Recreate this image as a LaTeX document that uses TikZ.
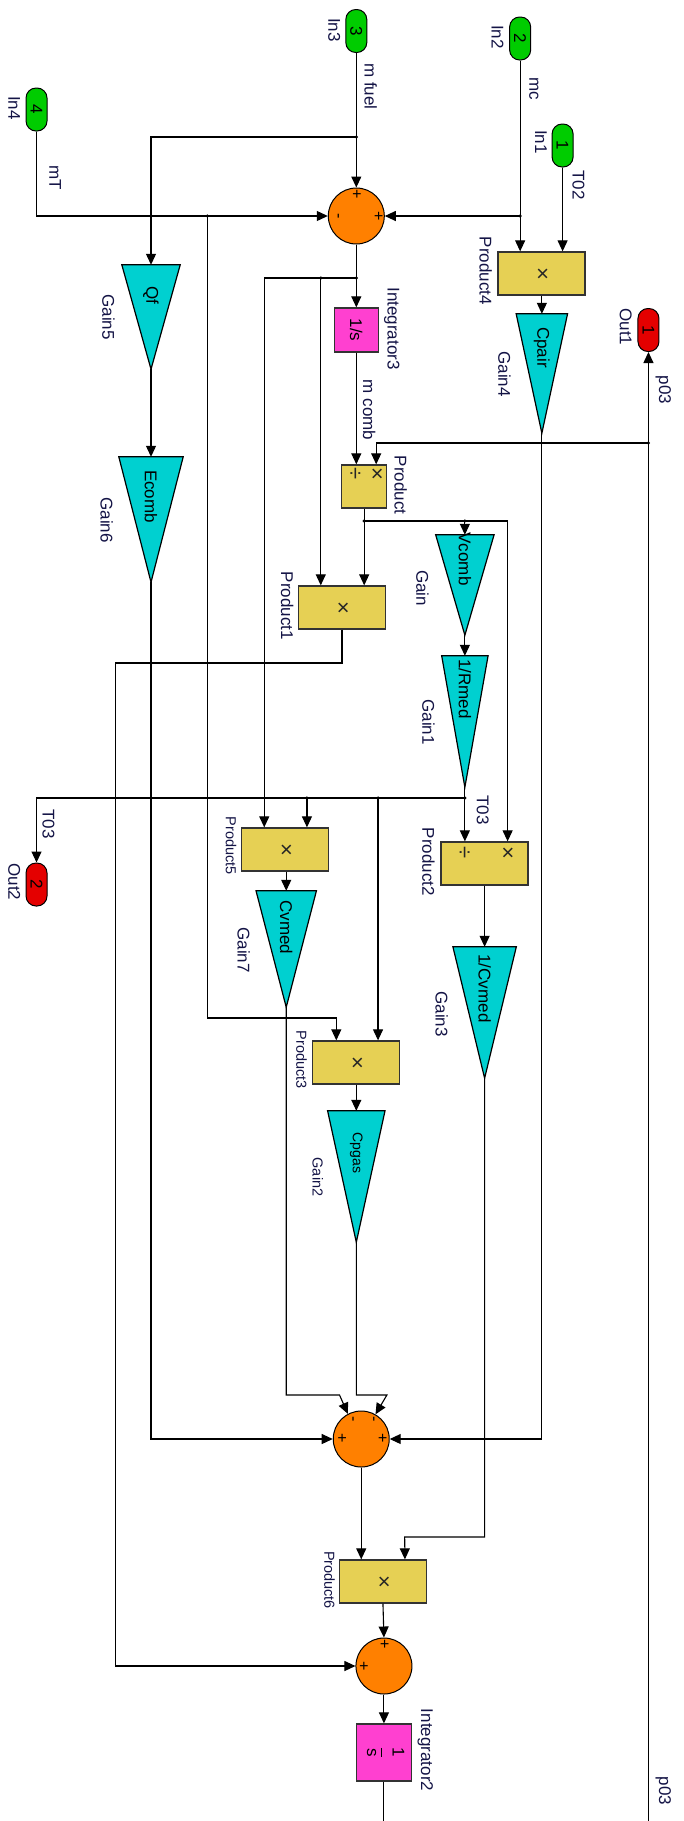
\documentclass[tikz,border=0pt]{standalone}
\usepackage{fontspec}
\setmainfont{Liberation Sans}
\usetikzlibrary{arrows.meta}
\definecolor{ingreen}{RGB}{0,204,0}
\definecolor{outred}{RGB}{228,0,0}
\definecolor{gaincyan}{RGB}{0,208,208}
\definecolor{prodyel}{RGB}{230,208,84}
\definecolor{sumorange}{RGB}{255,128,0}
\definecolor{intmag}{RGB}{255,64,208}
\definecolor{namecol}{RGB}{20,20,70}
\tikzset{
  sig/.style={line width=1.1pt, -{Triangle[length=11pt,width=10pt]}},
  wire/.style={line width=1.1pt},
  port/.style={draw=black, line width=1pt, rounded corners=10pt, minimum width=21pt, minimum height=43pt, inner sep=0pt, font=\fontsize{17}{20}\selectfont},
  inport/.style={port, fill=ingreen},
  outport/.style={port, fill=outred},
  prodbox/.style={draw=black!80, line width=1.3pt, fill=prodyel, minimum width=87pt, minimum height=43pt, inner sep=0pt},
  intbox/.style={draw=black!80, line width=1.3pt, fill=intmag, inner sep=0pt},
  sumnode/.style={circle, draw=black, line width=1pt, fill=sumorange, minimum size=56pt, inner sep=0pt},
  nm/.style={rotate=-90, text=namecol, font=\fontsize{17}{20}\selectfont, inner sep=0pt},
  nms/.style={rotate=-90, text=namecol, font=\fontsize{14.5}{17}\selectfont, inner sep=0pt},
  blk/.style={rotate=-90, font=\fontsize{17}{20}\selectfont, inner sep=0pt},
  blks/.style={rotate=-90, font=\fontsize{14}{17}\selectfont, inner sep=0pt},
  mul/.style={rotate=-90, font=\fontsize{22}{24}\selectfont, inner sep=0pt, text=black!85},
  sgn/.style={rotate=-90, font=\fontsize{16}{18}\selectfont, inner sep=0pt},
  jdot/.style={circle, fill=black, inner sep=0pt, minimum size=3.5pt},
  gainfill/.style={fill=gaincyan, draw=black, line width=1.2pt, line join=miter},
}
\newcommand\gainblk[5]{%
  \node[inner sep=0pt, minimum width=#4pt, minimum height=#5pt] (#1) at (#2,#3) {};
  \filldraw[gainfill] (#1.north west) -- (#1.north east) -- (#1.south) -- cycle;
}
\begin{document}
\begin{tikzpicture}[x=0.987pt,y=-1pt]
\useasboundingbox (0,0) rectangle (692,1821);
\fill[white] (0,0) rectangle (692,1821);

% ---------- inports / outports ----------
\node[inport] (in3) at (361,31) {};
\node[blk] at (in3) {3};
\node[inport] (in2) at (527,38.5) {};
\node[blk] at (in2) {2};
\node[inport] (in1) at (570,145.5) {};
\node[blk] at (in1) {1};
\node[inport] (in4) at (37,109.5) {};
\node[blk] at (in4) {4};
\node[outport] (out1) at (657,330) {};
\node[blk] at (out1) {1};
\node[outport] (out2) at (37,884.5) {};
\node[blk] at (out2) {2};

\node[nm] (lin3) at (338.6,30) {In3};
\node[nm] (lin2) at (504,37) {In2};
\node[nm] (lin1) at (548,142) {In1};
\node[nm] (lin4) at (14.5,108) {In4};
\node[nm] (lout1) at (634,327) {Out1};
\node[nm] (lout2) at (14.5,882) {Out2};

% ---------- sums ----------
\node[sumnode] (sum1) at (361,216) {};
\node[sgn] at (361,194) {+};
\node[sgn] at (341,216) {-};
\node[sgn] at (383,216) {+};
\node[sumnode] (sum2) at (366,1439) {};
\node[sgn] at (356,1419) {-};
\node[sgn] at (377,1419) {-};
\node[sgn] at (346,1438) {+};
\node[sgn] at (387,1438) {+};
\node[sumnode] (sum3) at (389,1666) {};
\node[sgn] at (389,1644) {+};
\node[sgn] at (368,1666) {+};

% ---------- integrators ----------
\node[intbox, minimum width=44pt, minimum height=44pt] (int3) at (361,330) {};
\node[blk] at (int3) {1/s};
\node[nm] (lint3) at (397,328.5) {Integrator3};
\node[intbox, minimum width=55pt, minimum height=57pt] (int2) at (389,1752.5) {};
\node[rotate=-90, inner sep=0pt, font=\fontsize{17}{20}\selectfont] at (int2) {\begin{tabular}{@{}c@{}}1\\[-3pt]\rule{2pt}{0pt}\\[-12pt]\hline s\end{tabular}};
\node[nm] (lint2) at (431,1750) {Integrator2};

% ---------- products ----------
\node[prodbox] (p4) at (548.5,273.5) {};
\node[mul] at (p4) {×};
\node[nm] (lp4) at (492,271) {Product4};
\node[prodbox, minimum width=45pt] (prod) at (369,486.5) {};
\node[mul] at (359,474) {÷};
\node[mul] at (381,474) {×};
\node[nm] (lprod) at (406,485) {Product};
\node[prodbox] (p1) at (346.5,607.5) {};
\node[mul] at (p1) {×};
\node[nm] (lp1) at (291,606) {Product1};
\node[prodbox] (p2) at (491,863.5) {};
\node[mul] at (469.5,853) {÷};
\node[mul] at (513.5,853) {×};
\node[nm] (lp2) at (434,862) {Product2};
\node[prodbox] (p5) at (289,849.5) {};
\node[mul] at (p5) {×};
\node[nms] (lp5) at (234,846) {Product5};
\node[prodbox] (p3) at (361,1062.5) {};
\node[mul] at (p3) {×};
\node[nms] (lp3) at (305.5,1060) {Product3};
\node[prodbox] (p6) at (388,1581.5) {};
\node[mul] at (p6) {×};
\node[nms] (lp6) at (334,1580) {Product6};

% ---------- gains ----------
\gainblk{g5}{153}{317}{58}{104}
\node[blk] at (153,295) {Qf};
\node[nm] (lg5) at (110,317) {Gain5};
\gainblk{g6}{153}{519.5}{64}{125}
\node[blk] at (153,496.5) {Ecomb};
\node[nm] (lg6) at (108,520) {Gain6};
\gainblk{g4}{549}{373.5}{51}{119}
\node[blk] at (549,347.5) {Cpair};
\node[nm] (lg4) at (511,374) {Gain4};
\gainblk{g0}{471}{585}{58}{100}
\node[blk] at (471,559) {Vcomb};
\node[nm] (lg0) at (428,588) {Gain};
\gainblk{g1}{471}{721.5}{46}{131}
\node[blk] at (471,689) {1/Rmed};
\node[nm] (lg1) at (434,722) {Gain1};
\gainblk{g7}{290}{949}{60}{116}
\node[blk] at (290,927.5) {Cvmed};
\node[nm] (lg7) at (247,950) {Gain7};
\gainblk{g3}{491}{1012.5}{63}{131}
\node[blk] at (491,988.5) {1/Cvmed};
\node[nm] (lg3) at (447.5,1014) {Gain3};
\gainblk{g2}{361}{1176.5}{57}{131}
\node[blks] at (361,1153) {Cpgas};
\node[nms] (lg2) at (322,1177) {Gain2};

% ---------- signal labels ----------
\node[nm] at (375.6,86.5) {m fuel};
\node[nm] at (541,88.5) {mc};
\node[nm] at (586,185) {T02};
\node[nm] at (56,178) {mT};
\node[nm] at (374,410) {m comb};
\node[nm] at (672,390) {p03};
\node[nm] at (672,1791) {p03};
\node[nm] at (49,824) {T03};
\node[nm] at (489,810) {T03};

% ---------- junctions ----------
\coordinate (j1) at (361,137);
\coordinate (j2) at (210,216);
\coordinate (j3) at (527,216);
\coordinate (j4) at (361,278);
\coordinate (j5) at (325,278);
\coordinate (j6) at (657,443);
\coordinate (j7) at (369,521);
\coordinate (j8) at (471,521);
\coordinate (j9) at (471,798);
\coordinate (j10) at (311,798);
\coordinate (j11) at (383,798);
\coordinate (botI) at (389,1821);
\coordinate (botP) at (657,1821);
\foreach \j in {j1,j2,j3,j4,j5,j6,j7,j8,j9,j10,j11} \node[jdot] at (\j) {};

% ---------- connectors ----------
\draw[sig] (in3.south) -- (sum1.north);
\draw[sig] (j1) -| (g5.north);
\draw[sig] (in4.south) |- (sum1.west);
\draw[sig] (j2) -- (210,1018) -| ([xshift=-20pt]p3.north);
\draw[sig] (in2.south) -- (p4.north -| in2.south);
\draw[sig] (j3) -- (sum1.east);
\draw[sig] (in1.south) -- (p4.north -| in1.south);
\draw[sig] (p4.south -| g4.north) -- (g4.north);
\draw[sig] (sum1.south) -- (int3.north);
\draw[sig] (j4) -| ([xshift=-21pt]p5.north);
\draw[sig] (j5) -- (p1.north -| j5);
\draw[sig] (int3.south) -- (prod.north -| int3.south);
\draw[sig] (botP) -- (out1.south);
\draw[sig] (j6) -| ([xshift=12pt]prod.north);
\draw[sig] (prod.south) -- (p1.north -| prod.south);
\draw[sig] (j7) -| ([xshift=23pt]p2.north);
\draw[sig] (j8) -- (g0.north);
\draw[sig] (g0.south) -- (g1.north);
\draw[sig] (g1.south) -- (p2.north -| g1.south);
\draw[sig] (j9) -| (out2.north);
\draw[sig] (j10) -- (p5.north -| j10);
\draw[sig] (j11) -- (p3.north -| j11);
\draw[sig] (p5.south -| g7.north) -- (g7.north);
\draw[sig] (g7.south) -- (290,1395) -- (344,1395) -- (sum2.118);
\draw[sig] (p3.south) -- (g2.north);
\draw[sig] (g2.south) -- (361,1395) -- (392,1395) -- (sum2.60);
\draw[sig] (p2.south) -- (g3.north);
\draw[sig] (g3.south) |- (410,1537) -- ([xshift=22pt]p6.north);
\draw[sig] (g4.south) |- (sum2.east);
\draw[sig] (g6.south) |- (sum2.west);
\draw[sig] (g5.south) -- (g6.north);
\draw[sig] (p1.south) |- (117,663) |- (sum3.west);
\draw[sig] (sum2.south) -- (p6.north -| sum2.south);
\draw[sig] (p6.south) -- (sum3.north);
\draw[sig] (sum3.south) -- (int2.north);
\draw[wire] (int2.south) -- (botI);
\end{tikzpicture}
\end{document}
